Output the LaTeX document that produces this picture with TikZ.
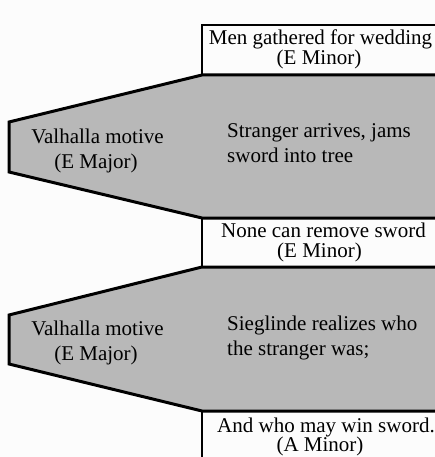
\documentclass[tikz,border=0pt]{standalone}
\usepackage{fontspec}
\setmainfont{Liberation Serif}
\definecolor{shade}{RGB}{184,184,184}
\definecolor{bg}{RGB}{252,252,252}
\tikzset{
  grayband/.style={fill=shade, draw=black, line width=3pt, line join=miter},
  boxline/.style={draw=black, line width=2.4pt, line join=miter},
  txt/.style={inner sep=0pt, font=\fontsize{21}{24}\selectfont},
  ctxt/.style={txt, anchor=base},
  ltxt/.style={txt, anchor=base west}
}
\begin{document}
\begin{tikzpicture}[x=1pt,y=-1pt]
\useasboundingbox (0,0) rectangle (435,457);
\fill[bg] (0,0) rectangle (435,457);
\clip (0,0) rectangle (435,457);
% grey bands
\path[grayband] (445,75) -- (202,75) -- (9,122) -- (9,172) -- (202,218) -- (445,218);
\path[grayband] (445,267) -- (202,267) -- (9,315) -- (9,364) -- (202,411) -- (445,411);
% white boxes
\path[boxline] (202,76) -- (202,25) -- (445,25);
\path[boxline] (202,218) -- (202,267);
\path[boxline] (202,411) -- (202,465);
% texts
\node[ctxt] (b1a) at (320.5,45) {Men gathered for wedding};
\node[ctxt] (b1b) at (319,65) {(E Minor)};
\node[ctxt] (v1a) at (97.5,143) {Valhalla motive};
\node[ctxt] (v1b) at (96,168) {(E Major)};
\node[ltxt] (s1a) at (227,138) {Stranger arrives, jams};
\node[ltxt] (s1b) at (227,162) {sword into tree};
\node[ctxt] (b2a) at (323.5,237) {None can remove sword};
\node[ctxt] (b2b) at (319.5,257) {(E Minor)};
\node[ctxt] (v2a) at (97.5,335) {Valhalla motive};
\node[ctxt] (v2b) at (96,360) {(E Major)};
\node[ltxt] (s2a) at (227,330) {Sieglinde realizes who};
\node[ltxt] (s2b) at (227,355) {the stranger was;};
\node[ctxt] (b3a) at (326,432) {And who may win sword.};
\node[ctxt] (b3b) at (320,451) {(A Minor)};
\end{tikzpicture}
\end{document}
